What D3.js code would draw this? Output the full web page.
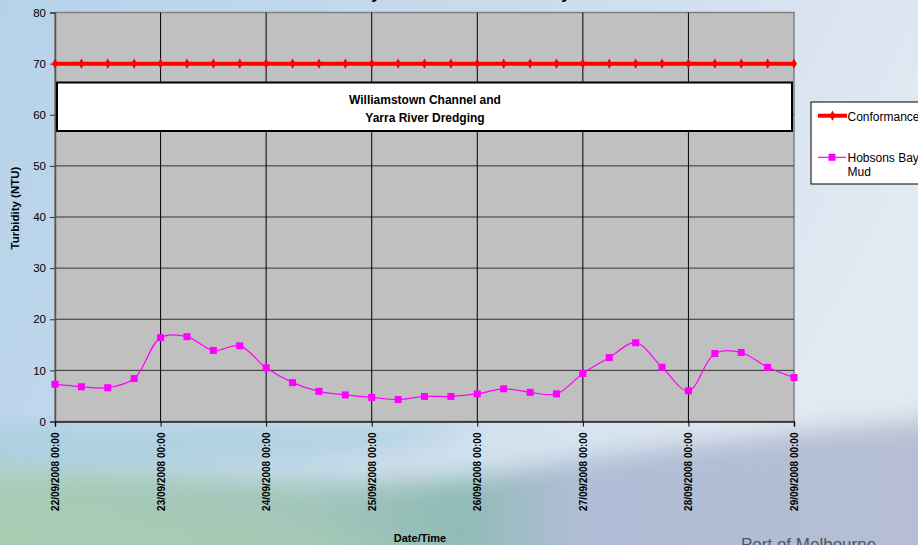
<!DOCTYPE html>
<html>
<head>
<meta charset="utf-8">
<script src="https://cdn.jsdelivr.net/npm/d3@7"></script>
<style>
  body { margin: 0; }
  svg { display: block; font-family: Arial, "Liberation Sans", sans-serif; }
</style>
</head>
<body>
<div id="container"></div>
<script>
const width = 918;
const height = 545;

// readings every 6 hours, 22/09/2008 to 29/09/2008
const times = [
  "2008-09-22 00:00", "2008-09-22 06:00", "2008-09-22 12:00", "2008-09-22 18:00",
  "2008-09-23 00:00", "2008-09-23 06:00", "2008-09-23 12:00", "2008-09-23 18:00",
  "2008-09-24 00:00", "2008-09-24 06:00", "2008-09-24 12:00", "2008-09-24 18:00",
  "2008-09-25 00:00", "2008-09-25 06:00", "2008-09-25 12:00", "2008-09-25 18:00",
  "2008-09-26 00:00", "2008-09-26 06:00", "2008-09-26 12:00", "2008-09-26 18:00",
  "2008-09-27 00:00", "2008-09-27 06:00", "2008-09-27 12:00", "2008-09-27 18:00",
  "2008-09-28 00:00", "2008-09-28 06:00", "2008-09-28 12:00", "2008-09-28 18:00",
  "2008-09-29 00:00"
];
const conformance = [
  70, 70, 70, 70, 70, 70, 70, 70, 70, 70, 70, 70, 70, 70, 70,
  70, 70, 70, 70, 70, 70, 70, 70, 70, 70, 70, 70, 70, 70
];
const hobsonsBayMud = [
  7.3, 6.8, 6.6, 8.4, 16.4, 16.6, 13.9, 14.8, 10.5, 7.6, 5.9, 5.2, 4.7, 4.3, 4.9,
  4.9, 5.4, 6.4, 5.7, 5.4, 9.4, 12.5, 15.4, 10.6, 6.0, 13.3, 13.5, 10.6, 8.6
];
const yTicks = [0, 10, 20, 30, 40, 50, 60, 70, 80];
const seriesNames = ["Conformance", "Hobsons Bay Mud"];
const annotation = ["Williamstown Channel and", "Yarra River Dredging"];

const parseTime = d3.timeParse("%Y-%m-%d %H:%M");
const dates = times.map(parseTime);

const margin = { top: 12.5, right: 124, bottom: 123.5, left: 55 };
const plotW = width - margin.left - margin.right;
const plotH = height - margin.top - margin.bottom;

const svg = d3.select("#container")
  .append("svg")
  .attr("width", width)
  .attr("height", height);

// ---- background (slide style) ----
const defs = svg.append("defs");
const bg = defs.append("linearGradient").attr("id", "bg")
  .attr("x1", 0).attr("y1", 0).attr("x2", 1).attr("y2", 0.3);
bg.append("stop").attr("offset", 0).attr("stop-color", "#b5d2ea");
bg.append("stop").attr("offset", 0.5).attr("stop-color", "#c8dbec");
bg.append("stop").attr("offset", 1).attr("stop-color", "#e2e9f2");

const band = defs.append("linearGradient").attr("id", "band")
  .attr("x1", 0).attr("y1", 0).attr("x2", 1).attr("y2", 0);
band.append("stop").attr("offset", 0).attr("stop-color", "#a9ccb4");
band.append("stop").attr("offset", 0.35).attr("stop-color", "#a2c6bb");
band.append("stop").attr("offset", 0.5).attr("stop-color", "#8fbbb6");
band.append("stop").attr("offset", 0.62).attr("stop-color", "#b0bdd6");
band.append("stop").attr("offset", 1).attr("stop-color", "#b6bfd3");

defs.append("filter").attr("id", "blur")
  .attr("x", "-20%").attr("y", "-20%").attr("width", "140%").attr("height", "140%")
  .append("feGaussianBlur").attr("stdDeviation", 12);

svg.append("rect").attr("width", width).attr("height", height).attr("fill", "url(#bg)");

// teal haze under the plot on the left
svg.append("path")
  .attr("d", "M-40,425 L480,425 C420,450 300,470 -40,470 Z")
  .attr("fill", "#a6cedd")
  .attr("opacity", 0.7)
  .attr("filter", "url(#blur)");

svg.append("path")
  .attr("d", "M-40,470 C150,465 350,500 520,470 C650,445 800,432 960,418 L960,600 L-40,600 Z")
  .attr("fill", "url(#band)")
  .attr("filter", "url(#blur)");

svg.append("path")
  .attr("d", "M-40,520 C120,500 300,530 470,560 L-40,600 Z")
  .attr("fill", "#a8cdb0")
  .attr("opacity", 0.6)
  .attr("filter", "url(#blur)");

// chart title, cut off at the top edge (only descenders show)
svg.append("text")
  .attr("x", 440)
  .attr("y", -1)
  .attr("text-anchor", "middle")
  .attr("font-size", 17)
  .attr("font-weight", "bold")
  .attr("fill", "#000")
  .text("Turbidity Results - Hobsons Bay");

// ---- scales ----
const x = d3.scaleTime()
  .domain([dates[0], dates[dates.length - 1]])
  .range([margin.left, margin.left + plotW]);
const y = d3.scaleLinear()
  .domain([0, 80])
  .range([margin.top + plotH, margin.top]);

// plot area
svg.append("rect")
  .attr("x", margin.left).attr("y", margin.top)
  .attr("width", plotW).attr("height", plotH)
  .attr("fill", "#c0c0c0")
  .attr("stroke", "#808080")
  .attr("stroke-width", 1.5);

// gridlines
svg.append("g")
  .selectAll("line")
  .data(yTicks.slice(1, -1))
  .join("line")
  .attr("x1", margin.left).attr("x2", margin.left + plotW)
  .attr("y1", d => y(d)).attr("y2", d => y(d))
  .attr("stroke", "#333").attr("stroke-width", 1);

const dayTicks = x.ticks(d3.timeDay.every(1));
svg.append("g")
  .selectAll("line")
  .data(dayTicks.slice(1, -1))
  .join("line")
  .attr("x1", d => x(d)).attr("x2", d => x(d))
  .attr("y1", margin.top).attr("y2", margin.top + plotH)
  .attr("stroke", "#000").attr("stroke-width", 1);

// axes
const yAxis = svg.append("g")
  .attr("transform", `translate(${margin.left},0)`)
  .call(d3.axisLeft(y).tickValues(yTicks).tickSize(5).tickPadding(4));
yAxis.select(".domain").attr("stroke", "#555").attr("stroke-width", 1.5);
yAxis.selectAll(".tick line").attr("stroke", "#333");
yAxis.selectAll("text")
  .attr("font-size", 11.5).attr("font-family", "Arial, 'Liberation Sans', sans-serif").attr("fill", "#000");

const xAxis = svg.append("g")
  .attr("transform", `translate(0,${margin.top + plotH})`)
  .call(d3.axisBottom(x).tickValues(dayTicks).tickSize(5)
    .tickFormat(d3.timeFormat("%d/%m/%Y %H:%M")));
xAxis.select(".domain").attr("stroke", "#222").attr("stroke-width", 1.5);
xAxis.selectAll(".tick line").attr("stroke", "#000");
xAxis.selectAll("text")
  .attr("font-size", 10).attr("font-weight", "bold")
  .attr("font-family", "Arial, 'Liberation Sans', sans-serif").attr("fill", "#000")
  .attr("transform", "rotate(-90)")
  .attr("text-anchor", "end")
  .attr("x", -11)
  .attr("y", 0)
  .attr("dy", "0.35em");

// axis titles
svg.append("text")
  .attr("transform", "translate(19,208) rotate(-90)")
  .attr("text-anchor", "middle")
  .attr("font-size", 11.5).attr("font-weight", "bold")
  .text("Turbidity (NTU)");
svg.append("text")
  .attr("x", 420).attr("y", 542)
  .attr("text-anchor", "middle")
  .attr("font-size", 11).attr("font-weight", "bold")
  .text("Date/Time");

// annotation box
svg.append("rect")
  .attr("x", 57).attr("y", 82.5)
  .attr("width", 735).attr("height", 48.5)
  .attr("fill", "#fff").attr("stroke", "#000").attr("stroke-width", 2);
svg.append("text")
  .attr("x", 425).attr("y", 104)
  .attr("text-anchor", "middle")
  .attr("font-size", 12).attr("font-weight", "bold")
  .selectAll("tspan")
  .data(annotation)
  .join("tspan")
  .attr("x", 425)
  .attr("dy", (d, i) => i === 0 ? 0 : 17.5)
  .text(d => d);

// conformance line
const confData = dates.map((d, i) => ({ date: d, value: conformance[i] }));
svg.append("path")
  .datum(confData)
  .attr("fill", "none")
  .attr("stroke", "#ff0000")
  .attr("stroke-width", 4)
  .attr("d", d3.line().x(d => x(d.date)).y(d => y(d.value)));
svg.append("g")
  .selectAll("path")
  .data(confData)
  .join("path")
  .attr("transform", d => `translate(${x(d.date)},${y(d.value)})`)
  .attr("d", d3.symbol(d3.symbolDiamond, 30))
  .attr("fill", "#ff0000");

// Hobsons Bay Mud
const mudData = dates.map((d, i) => ({ date: d, value: hobsonsBayMud[i] }));
svg.append("path")
  .datum(mudData)
  .attr("fill", "none")
  .attr("stroke", "#ff00ff")
  .attr("stroke-width", 1.2)
  .attr("d", d3.line().curve(d3.curveCatmullRom.alpha(0.5))
    .x(d => x(d.date)).y(d => y(d.value)));
svg.append("g")
  .selectAll("rect")
  .data(mudData)
  .join("rect")
  .attr("x", d => x(d.date) - 3.5)
  .attr("y", d => y(d.value) - 3.5)
  .attr("width", 7).attr("height", 7)
  .attr("fill", "#ff00ff");

// legend (runs off the right edge, as in the slide)
const legend = svg.append("g").attr("transform", "translate(811,102)");
legend.append("rect")
  .attr("width", 120).attr("height", 82)
  .attr("fill", "#fff").attr("stroke", "#000").attr("stroke-width", 1);
legend.append("line")
  .attr("x1", 7).attr("x2", 36).attr("y1", 13.7).attr("y2", 13.7)
  .attr("stroke", "#ff0000").attr("stroke-width", 4);
legend.append("path")
  .attr("transform", "translate(21.5,13.7)")
  .attr("d", d3.symbol(d3.symbolDiamond, 30))
  .attr("fill", "#ff0000");
legend.append("text")
  .attr("x", 36.5).attr("y", 18.5)
  .attr("font-size", 12)
  .text(seriesNames[0]);
legend.append("line")
  .attr("x1", 7).attr("x2", 35).attr("y1", 55.3).attr("y2", 55.3)
  .attr("stroke", "#ff00ff").attr("stroke-width", 1.2);
legend.append("rect")
  .attr("x", 17.5).attr("y", 51.8).attr("width", 7).attr("height", 7)
  .attr("fill", "#ff00ff");
legend.append("text")
  .attr("x", 36.5).attr("y", 59.5)
  .attr("font-size", 12)
  .selectAll("tspan")
  .data(["Hobsons Bay", "Mud"])
  .join("tspan")
  .attr("x", 36.5)
  .attr("dy", (d, i) => i === 0 ? 0 : 14.5)
  .text(d => d);

// footer logo text
svg.append("text")
  .attr("x", 741).attr("y", 550)
  .attr("font-size", 17)
  .attr("fill", "#4d5566")
  .text("Port of Melbourne");
</script>
</body>
</html>
